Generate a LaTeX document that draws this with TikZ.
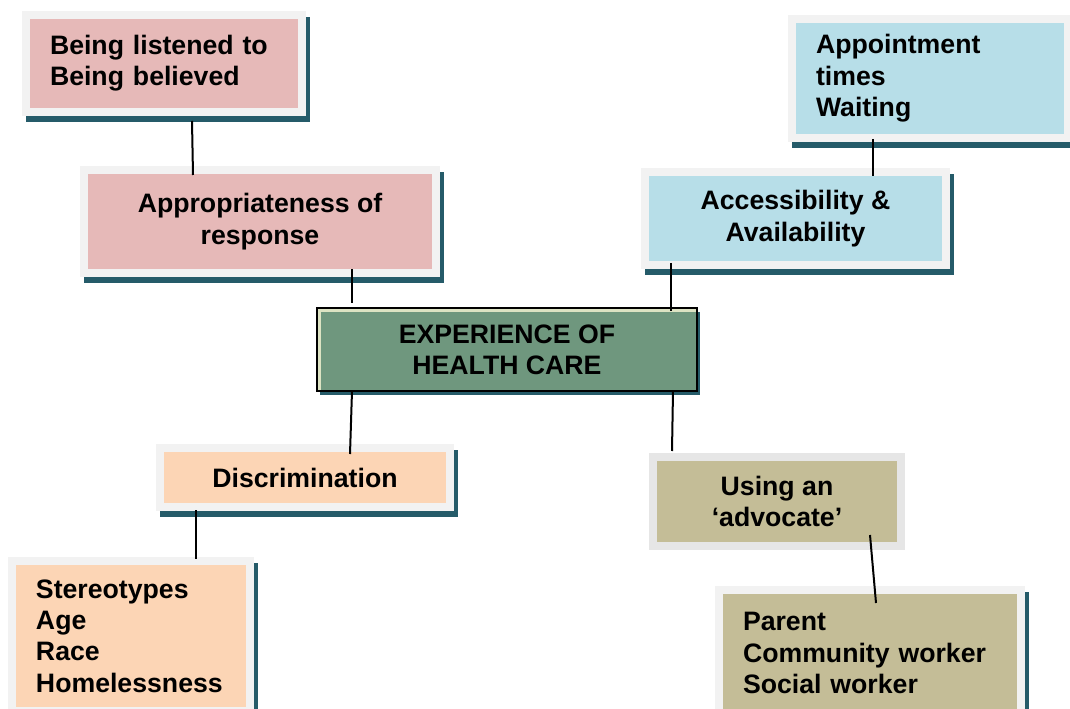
\documentclass[tikz,border=0pt]{standalone}
\usepackage{fontspec}
\setmainfont{Liberation Sans}
\usetikzlibrary{backgrounds}
\definecolor{pinkc}{HTML}{E6B9B8}
\definecolor{bluec}{HTML}{B7DEE8}
\definecolor{peachc}{HTML}{FCD5B5}
\definecolor{tanc}{HTML}{C4BD97}
\definecolor{greenc}{HTML}{6F977E}
\definecolor{shadowc}{HTML}{255B69}
\definecolor{framec}{HTML}{F2F2F2}
\definecolor{framed}{HTML}{E6E6E6}
\definecolor{creamc}{HTML}{DDE3C3}
\newcommand\cardshadow[1]{\fill[shadowc] ([shift={(0,2)}]#1.north west) rectangle ([shift={(8,10)}]#1.south east);}
\begin{document}
\begin{tikzpicture}[x=0.75pt,y=-0.75pt,
  card/.style={rectangle, inner sep=0pt, outer sep=0pt, draw=framec, line width=6pt,
    font=\bfseries\fontsize{20}{23.5}\selectfont, text=black},
  lefttext/.style={align=left, inner xsep=18pt},
  conn/.style={draw=black, line width=1.5pt}]
\useasboundingbox (0,0) rectangle (1070,709);

% boxes
\node[card, fill=pinkc, minimum width=207pt, minimum height=72.75pt, text width=171pt, lefttext] (A) at (164,63.5) {Being listened to\\Being believed};
\node[card, fill=pinkc, minimum width=264pt, minimum height=77.25pt, align=center] (B) at (260,221.5) {Appropriateness of\\response};
\node[rectangle, inner sep=0pt, outer sep=0pt, draw=black, line width=1.1pt, fill=greenc, minimum width=285pt, minimum height=62.25pt, align=center, font=\bfseries\fontsize{20}{23.5}\selectfont] (C) at (507,349.5) {EXPERIENCE OF\\HEALTH CARE};
\draw[creamc, line width=2.2pt] ([shift={(2.6,-1)}]C.south west) |- ([shift={(-1,2.6)}]C.north east);
\node[card, fill=bluec, minimum width=225.75pt, minimum height=69.75pt, align=center] (D) at (795.5,218.5) {Accessibility \&\\Availability};
\node[card, fill=bluec, minimum width=207pt, minimum height=89.25pt, text width=171pt, lefttext] (E) at (930,78.5) {Appointment\\times\\Waiting};
\node[card, fill=peachc, minimum width=217.5pt, minimum height=44.25pt, align=center] (F) at (305,477.5) {Discrimination};
\node[card, fill=peachc, minimum width=178.5pt, minimum height=112.5pt, text width=142.5pt, lefttext] (G) at (131,636) {Stereotypes\\Age\\Race\\Homelessness};
\node[card, draw=framed, fill=tanc, minimum width=186pt, minimum height=66.75pt, align=center] (H) at (777,501.5) {Using an\\‘advocate’};
\node[card, fill=tanc, minimum width=226.5pt, minimum height=94.5pt, text width=190.5pt, lefttext] (I) at (870,653) {Parent\\Community worker\\Social worker};

% shadows
\begin{scope}[on background layer]
  \cardshadow{A}
  \cardshadow{B}
  \cardshadow{D}
  \cardshadow{E}
  \cardshadow{F}
  \cardshadow{G}
  \cardshadow{I}
  \fill[shadowc] ([shift={(3,4)}]C.north west) rectangle ([shift={(3,4)}]C.south east);
\end{scope}

% connectors
\draw[conn] ([shift={(166,9)}]A.south west) -- ([shift={(109,5)}]B.north west);
\draw[conn] ([shift={(268,-4)}]B.south west) -- ([shift={(35,-5)}]C.north west);
\draw[conn] ([shift={(26,-2)}]D.south west) -- ([shift={(354,3)}]C.north west);
\draw[conn] ([shift={(81,1)}]E.south west) -- ([shift={(228,4)}]D.north west);
\draw[conn] ([shift={(35,0)}]C.south west) -- ([shift={(190,6)}]F.north west);
\draw[conn] ([shift={(356,0)}]C.south west) -- ([shift={(19,-6)}]H.north west);
\draw[conn] ([shift={(36,3)}]F.south west) -- ([shift={(184,-2)}]G.north west);
\draw[conn] ([shift={(217,-11)}]H.south west) -- ([shift={(157,13)}]I.north west);
\end{tikzpicture}
\end{document}
